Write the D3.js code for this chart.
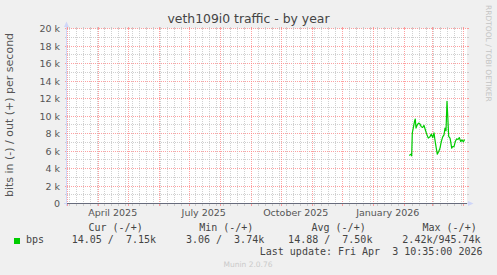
<!DOCTYPE html>
<html>
<head>
<meta charset="utf-8">
<script src="https://cdn.jsdelivr.net/npm/d3@7"></script>
<style>
  body { margin: 0; background: #f0f0f0; }
  svg { display: block; font-family: "DejaVu Sans", sans-serif; }
  .mono { font-family: "DejaVu Sans Mono", monospace; font-size: 10px; fill: #444; white-space: pre; }
</style>
</head>
<body>
<svg id="graph" width="497" height="275"></svg>
<script>
  // out (+) traffic, daily averages
  let outDates = [
    "2026-02-06T01:00", "2026-02-07T18:00", "2026-02-08T10:30", "2026-02-09T01:00",
    "2026-02-11T10:30", "2026-02-12T01:00", "2026-02-12T18:00", "2026-02-14T01:00",
    "2026-02-15T10:30", "2026-02-16T18:00", "2026-02-18T01:00", "2026-02-19T10:30",
    "2026-02-20T18:00", "2026-02-21T18:00", "2026-02-23T10:30", "2026-02-25T01:00",
    "2026-02-26T18:00", "2026-02-28T01:00", "2026-03-01T10:30", "2026-03-02T18:00",
    "2026-03-03T10:30", "2026-03-04T18:00", "2026-03-06T01:00", "2026-03-07T10:30",
    "2026-03-08T18:00", "2026-03-10T01:00", "2026-03-11T10:30", "2026-03-12T18:00",
    "2026-03-13T18:00", "2026-03-14T18:00", "2026-03-15T18:00", "2026-03-16T10:30",
    "2026-03-17T10:30", "2026-03-18T18:00", "2026-03-19T10:30", "2026-03-20T10:30",
    "2026-03-21T10:30", "2026-03-22T18:00", "2026-03-24T01:00", "2026-03-25T10:30",
    "2026-03-26T18:00", "2026-03-28T01:00", "2026-03-29T10:30", "2026-03-30T18:00",
    "2026-04-01T01:00", "2026-04-02T10:30"
  ];
  let outValues = [
    5480, 5640, 5440, 8050, 9460, 9650, 8620, 9000, 9190, 9080, 8770, 8690,
    8920, 8540, 7930, 7470, 7620, 7930, 7540, 8080, 7470, 6510, 5640, 5940,
    6330, 7080, 7620, 7850, 8620, 8310, 11670, 10140, 7660, 7470, 7080, 6330,
    6510, 6510, 7080, 7390, 7310, 7540, 7080, 7280, 7050, 7310
  ];

  let yMajor = [0, 2000, 4000, 6000, 8000, 10000, 12000, 14000, 16000, 18000, 20000];
  let yMinor = [1000, 3000, 5000, 7000, 9000, 11000, 13000, 15000, 17000, 19000];
  let xLabelMonths = ["2025-04-15", "2025-07-15", "2025-10-15", "2026-01-15"];

  let legendHeaders = ["Cur (-/+)", "Min (-/+)", "Avg (-/+)", "Max (-/+)"];
  let legendIn = [14.05, 3.06, 14.88, 2420];
  let legendOut = [7150, 3740, 7500, 945740];

  let svg = d3.select("#graph");
  let width = +svg.attr("width"), height = +svg.attr("height");
  let plot = {left: 67, right: 467, top: 28.5, bottom: 203.5};

  let end = new Date(2026, 3, 4, 18, 0);
  let start = d3.timeDay.offset(end, -400);
  let x = d3.scaleTime().domain([start, end]).range([plot.left, plot.right]);
  let y = d3.scaleLinear().domain([0, 20000]).range([plot.bottom, plot.top]);

  let gridCol = "rgba(192,192,192,0.75)", mgridCol = "rgba(255,128,128,0.75)";
  let axisCol = "#cfd6f8";

  svg.append("rect").attr("width", width).attr("height", height).attr("fill", "#f0f0f0");
  svg.append("rect")
    .attr("x", plot.left).attr("y", plot.top)
    .attr("width", plot.right - plot.left).attr("height", plot.bottom - plot.top)
    .attr("fill", "#fff");

  let grid = svg.append("g").attr("shape-rendering", "crispEdges");
  let px = v => Math.floor(v) + 0.5;

  // horizontal grid
  function hLines(vals, col) {
    vals.forEach(function(v) {
      let yy = px(y(v));
      grid.append("line").attr("x1", plot.left).attr("x2", plot.right).attr("y1", yy).attr("y2", yy)
        .attr("stroke", col).attr("stroke-dasharray", "1,1");
      grid.append("line").attr("x1", plot.left - 2).attr("x2", plot.left).attr("y1", yy).attr("y2", yy).attr("stroke", col);
      grid.append("line").attr("x1", plot.right).attr("x2", plot.right + 2).attr("y1", yy).attr("y2", yy).attr("stroke", col);
    });
  }
  hLines(yMinor, gridCol);
  hLines(yMajor, mgridCol);

  // vertical grid: weeks minor, months major
  let months = d3.timeMonth.range(start, end);
  let weeks = d3.timeMonday.range(start, end).filter(function(d) {
    return !months.some(function(m) { return Math.abs(x(m) - x(d)) < 1; });
  });
  function vLines(vals, col) {
    vals.forEach(function(d) {
      let xx = px(x(d));
      grid.append("line").attr("x1", xx).attr("x2", xx).attr("y1", plot.top).attr("y2", plot.bottom)
        .attr("stroke", col).attr("stroke-dasharray", "1,1");
      grid.append("line").attr("x1", xx).attr("x2", xx).attr("y1", plot.bottom).attr("y2", plot.bottom + 2).attr("stroke", col);
      grid.append("line").attr("x1", xx).attr("x2", xx).attr("y1", plot.top - 2).attr("y2", plot.top).attr("stroke", col);
    });
  }
  vLines(weeks, gridCol);
  vLines(months, mgridCol);

  // axes lines + arrows
  svg.append("line").attr("x1", 66.5).attr("x2", 66.5).attr("y1", plot.bottom + 2).attr("y2", 25)
    .attr("stroke", axisCol).attr("shape-rendering", "crispEdges");
  svg.append("line").attr("x1", 64).attr("x2", 470).attr("y1", plot.bottom).attr("y2", plot.bottom)
    .attr("stroke", axisCol).attr("shape-rendering", "crispEdges");
  svg.append("line").attr("x1", plot.left).attr("x2", plot.right).attr("y1", plot.bottom).attr("y2", plot.bottom)
    .attr("stroke", "rgba(0,0,0,0.5)").attr("shape-rendering", "crispEdges");
  svg.append("path").attr("d", "M66.5,21.5L69,27L64,27Z").attr("fill", axisCol);
  svg.append("path").attr("d", "M473.5,203.5L468,201L468,206Z").attr("fill", axisCol);

  // y axis labels
  let yAxis = d3.axisLeft(y).tickValues(yMajor).tickSize(0).tickPadding(6.5)
    .tickFormat(function(d) { return d === 0 ? "0" : (d / 1000) + " k"; });
  let yg = svg.append("g").attr("transform", "translate(66.5,0)").call(yAxis);
  yg.select(".domain").remove();
  yg.selectAll("text").attr("font-family", "DejaVu Sans").attr("font-size", "9.5px").attr("fill", "#555");

  // x axis labels
  let xAxis = d3.axisBottom(x).tickValues(xLabelMonths.map(function(s) { return new Date(s + "T00:00"); }))
    .tickSize(0).tickPadding(5.3).tickFormat(d3.timeFormat("%B %Y"));
  let xg = svg.append("g").attr("transform", "translate(0," + plot.bottom + ")").call(xAxis);
  xg.select(".domain").remove();
  xg.selectAll("text").attr("font-family", "DejaVu Sans").attr("font-size", "9.5px").attr("fill", "#555");

  // data line
  let parse = d3.timeParse("%Y-%m-%dT%H:%M");
  let series = outDates.map(function(d, i) { return {date: parse(d), value: outValues[i]}; });
  let line = d3.line().x(function(d) { return x(d.date); }).y(function(d) { return y(d.value); });
  svg.append("path").datum(series).attr("d", line)
    .attr("fill", "none").attr("stroke", "#00cc00").attr("stroke-width", 1.2).attr("stroke-linejoin", "round");

  // title + labels
  svg.append("text").attr("x", 248.5).attr("y", 23).attr("text-anchor", "middle")
    .attr("font-size", "12.4px").attr("fill", "#444").text("veth109i0 traffic - by year");
  svg.append("text").attr("transform", "translate(13.4,115) rotate(-90)").attr("text-anchor", "middle")
    .attr("font-size", "11px").attr("fill", "#555").text("bits in (-) / out (+) per second");
  svg.append("text").attr("transform", "translate(485.5,5) rotate(90)")
    .attr("font-size", "7.5px").attr("fill", "#c4c4c4").text("RRDTOOL / TOBI OETIKER");
  svg.append("text").attr("x", 248).attr("y", 267).attr("text-anchor", "middle")
    .attr("font-size", "7.5px").attr("fill", "#cacaca").text("Munin 2.0.76");

  // legend
  function si(v) {
    return v >= 1000 ? d3.format("6.2f")(v / 1000) + "k" : d3.format("6.2f")(v) + " ";
  }
  let headerX = [88.5, 199.2, 311.5, 422.5];
  let colX = [65.7, 173.9, 282.1, 390.3];
  let lg = svg.append("g").attr("class", "mono");
  legendHeaders.forEach(function(h, i) {
    lg.append("text").attr("x", headerX[i]).attr("y", 230.5).attr("xml:space", "preserve").text(h);
    lg.append("text").attr("x", colX[i]).attr("y", 242.5).attr("xml:space", "preserve")
      .text(si(legendIn[i]) + "/" + si(legendOut[i]));
  });
  lg.append("rect").attr("x", 14).attr("y", 238).attr("width", 6).attr("height", 6).attr("fill", "#00cc00");
  lg.append("text").attr("x", 26).attr("y", 242.5).text("bps");
  lg.append("text").attr("x", 482.5).attr("y", 254.5).attr("text-anchor", "end").attr("xml:space", "preserve")
    .text("Last update: Fri Apr  3 10:35:00 2026");
</script>
</body>
</html>
